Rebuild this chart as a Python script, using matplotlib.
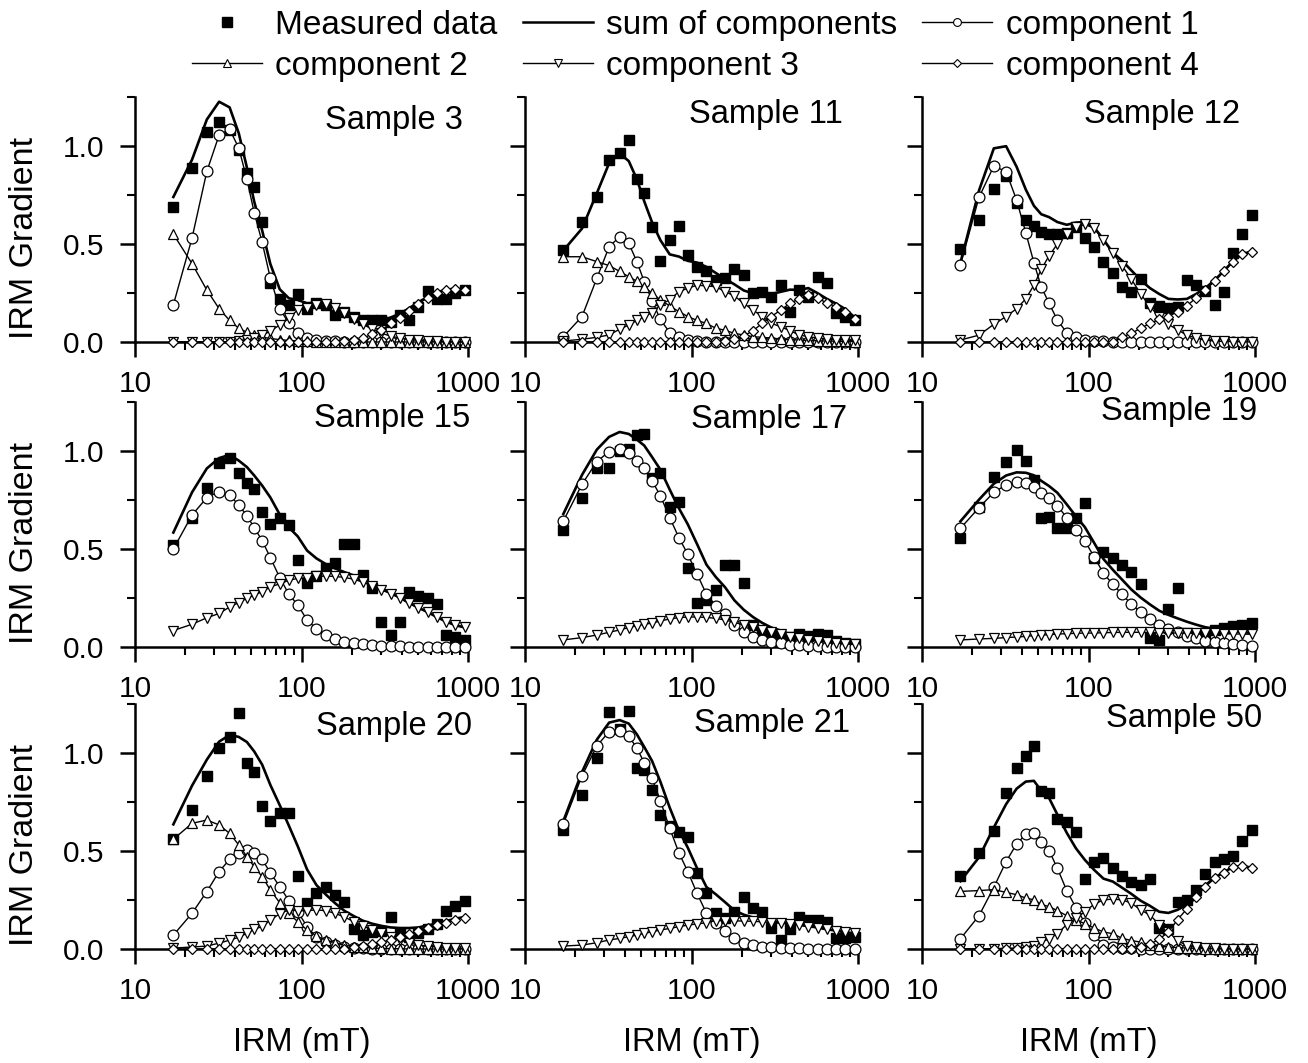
import numpy as np
import matplotlib
matplotlib.use("Agg")
import matplotlib.pyplot as plt
from matplotlib.lines import Line2D
from matplotlib.ticker import LogLocator, NullFormatter, FixedLocator

plt.rcParams['font.family'] = ['Liberation Sans', 'DejaVu Sans']

# ---------------- data ----------------
X_MT = [17, 22, 27, 32, 37, 42, 47, 52, 58, 65, 74, 84, 95, 108, 123, 140,
        159, 181, 206, 234, 266, 302, 343, 390, 443, 503, 572, 650, 738, 839, 953]

SAMPLES = ["Sample 3", "Sample 11", "Sample 12", "Sample 15", "Sample 17",
           "Sample 19", "Sample 20", "Sample 21", "Sample 50"]

S3_MEAS = [0.69, 0.89, 1.07, 1.12, 1.08, 0.98, 0.86, 0.79, 0.61, 0.30, 0.22, 0.19, 0.245, 0.17, 0.20, 0.19,
           0.14, 0.155, 0.13, 0.11, 0.11, 0.11, 0.10, 0.14, 0.11, 0.18, 0.26, 0.22, 0.22, 0.25, 0.265]
S3_C1 = [0.19, 0.53, 0.87, 1.056, 1.085, 0.99, 0.83, 0.66, 0.51, 0.325, 0.17, 0.095, 0.044, 0.02, 0.01, 0.005,
         0.003, 0.002, 0.001, 0.0, 0.0, 0.0, 0.0, 0.0, 0.0, 0.0, 0.0, 0.0, 0.0, 0.0, 0.0]
S3_C2 = [0.55, 0.40, 0.265, 0.17, 0.11, 0.07, 0.05, 0.036, 0.025, 0.018, 0.012, 0.008, 0.005, 0.003, 0.002, 0.001,
         0.0, 0.0, 0.0, 0.0, 0.0, 0.0, 0.0, 0.0, 0.0, 0.0, 0.0, 0.0, 0.0, 0.0, 0.0]
S3_C3 = [0.0, 0.0, 0.0, 0.0, 0.002, 0.005, 0.01, 0.02, 0.035, 0.055, 0.087, 0.12, 0.165, 0.175, 0.19, 0.195,
         0.175, 0.15, 0.115, 0.09, 0.065, 0.045, 0.03, 0.02, 0.012, 0.008, 0.005, 0.003, 0.002, 0.001, 0.0]
S3_C4 = [0.0, 0.0, 0.0, 0.0, 0.0, 0.0, 0.0, 0.0, 0.0, 0.0, 0.0, 0.0, 0.0, 0.0, 0.0, 0.0,
         0.0, 0.005, 0.01, 0.02, 0.04, 0.06, 0.095, 0.125, 0.16, 0.195, 0.225, 0.25, 0.265, 0.27, 0.265]

S11_MEAS = [0.47, 0.61, 0.74, 0.93, 0.966, 1.03, 0.83, 0.76, 0.585, 0.415, 0.52, 0.59, 0.445, 0.385, 0.36, 0.316,
            0.325, 0.37, 0.34, 0.25, 0.257, 0.23, 0.29, 0.155, 0.265, 0.23, 0.333, 0.30, 0.146, 0.13, 0.112]
S11_C1 = [0.027, 0.13, 0.325, 0.486, 0.537, 0.503, 0.41, 0.308, 0.21, 0.115, 0.048, 0.024, 0.01, 0.005, 0.002, 0.0,
          0.0, 0.0, 0.0, 0.0, 0.0, 0.0, 0.0, 0.0, 0.0, 0.0, 0.0, 0.0, 0.0, 0.0, 0.0]
S11_C2 = [0.435, 0.435, 0.41, 0.39, 0.36, 0.333, 0.31, 0.28, 0.25, 0.215, 0.184, 0.155, 0.13, 0.11, 0.095, 0.07,
          0.06, 0.044, 0.036, 0.027, 0.024, 0.02, 0.015, 0.012, 0.01, 0.008, 0.006, 0.005, 0.004, 0.003, 0.002]
S11_C3 = [0.005, 0.014, 0.024, 0.036, 0.065, 0.087, 0.11, 0.13, 0.15, 0.19, 0.215, 0.257, 0.274, 0.29, 0.286, 0.282,
          0.257, 0.235, 0.197, 0.163, 0.13, 0.095, 0.078, 0.058, 0.036, 0.027, 0.02, 0.015, 0.012, 0.01, 0.008]
S11_C4 = [0.0, 0.0, 0.0, 0.0, 0.0, 0.0, 0.0, 0.0, 0.0, 0.0, 0.0, 0.0, 0.0, 0.0, 0.0, 0.0,
          0.005, 0.015, 0.03, 0.058, 0.095, 0.13, 0.163, 0.197, 0.22, 0.24, 0.223, 0.2, 0.18, 0.155, 0.116]

S12_MEAS = [0.473, 0.62, 0.78, 0.847, 0.71, 0.622, 0.59, 0.563, 0.551, 0.551, 0.554, 0.588, 0.529, 0.486, 0.41, 0.35,
            0.282, 0.257, 0.32, 0.197, 0.184, 0.172, 0.18, 0.316, 0.29, 0.26, 0.19, 0.257, 0.452, 0.551, 0.648]
S12_C1 = [0.393, 0.738, 0.898, 0.869, 0.724, 0.558, 0.405, 0.282, 0.197, 0.112, 0.048, 0.024, 0.012, 0.006, 0.003, 0.001,
          0.0, 0.0, 0.0, 0.0, 0.0, 0.0, 0.0, 0.0, 0.0, 0.0, 0.0, 0.0, 0.0, 0.0, 0.0]
S12_C3 = [0.01, 0.035, 0.09, 0.13, 0.17, 0.22, 0.29, 0.37, 0.44, 0.5, 0.55, 0.585, 0.6, 0.58, 0.52, 0.455,
          0.39, 0.32, 0.245, 0.18, 0.13, 0.09, 0.062, 0.035, 0.02, 0.01, 0.005, 0.003, 0.002, 0.001, 0.0]
S12_C4 = [0.0, 0.0, 0.0, 0.0, 0.0, 0.0, 0.0, 0.0, 0.0, 0.0, 0.0, 0.0, 0.0, 0.0, 0.0, 0.0,
          0.025, 0.045, 0.07, 0.095, 0.115, 0.13, 0.155, 0.185, 0.225, 0.265, 0.31, 0.36, 0.41, 0.45, 0.46]

S15_MEAS = [0.52, 0.66, 0.813, 0.937, 0.963, 0.886, 0.835, 0.806, 0.69, 0.63, 0.66, 0.622, 0.444, 0.325, 0.36, 0.401,
            0.427, 0.524, 0.524, 0.367, 0.303, 0.126, 0.061, 0.126, 0.279, 0.26, 0.248, 0.218, 0.061, 0.049, 0.036]
S15_C1 = [0.5, 0.673, 0.762, 0.793, 0.776, 0.724, 0.67, 0.609, 0.543, 0.456, 0.354, 0.269, 0.214, 0.138, 0.092, 0.061,
          0.041, 0.027, 0.019, 0.014, 0.01, 0.007, 0.005, 0.003, 0.002, 0.001, 0.0, 0.0, 0.0, 0.0, 0.0]
S15_C3 = [0.084, 0.116, 0.149, 0.171, 0.204, 0.227, 0.248, 0.266, 0.281, 0.307, 0.322, 0.341, 0.35, 0.354, 0.36, 0.362,
          0.36, 0.355, 0.346, 0.331, 0.311, 0.291, 0.272, 0.249, 0.223, 0.2, 0.178, 0.153, 0.13, 0.111, 0.1]

S17_MEAS = [0.597, 0.758, 0.912, 0.912, 1.0, 1.01, 1.08, 1.085, 0.86, 0.89, 0.716, 0.738, 0.401, 0.223, 0.24, 0.29,
            0.418, 0.418, 0.325, 0.11, 0.07, 0.06, 0.05, 0.05, 0.065, 0.055, 0.065, 0.061, 0.03, 0.02, 0.015]
S17_C1 = [0.643, 0.83, 0.946, 0.997, 1.01, 0.988, 0.949, 0.912, 0.847, 0.772, 0.66, 0.558, 0.473, 0.372, 0.269, 0.211,
          0.167, 0.112, 0.078, 0.053, 0.036, 0.024, 0.019, 0.012, 0.008, 0.005, 0.003, 0.002, 0.001, 0.0, 0.0]
S17_C3 = [0.036, 0.048, 0.061, 0.075, 0.087, 0.099, 0.109, 0.116, 0.122, 0.133, 0.143, 0.15, 0.153, 0.153, 0.151, 0.146,
          0.138, 0.126, 0.112, 0.1, 0.087, 0.075, 0.065, 0.053, 0.044, 0.036, 0.03, 0.025, 0.02, 0.016, 0.013]

S19_MEAS = [0.554, 0.716, 0.869, 0.946, 1.005, 0.949, 0.852, 0.656, 0.665, 0.609, 0.605, 0.66, 0.733, 0.452, 0.486, 0.456,
            0.418, 0.384, 0.32, 0.044, 0.036, 0.194, 0.30, 0.07, 0.06, 0.07, 0.087, 0.095, 0.105, 0.112, 0.121]
S19_C1 = [0.605, 0.711, 0.789, 0.827, 0.84, 0.835, 0.818, 0.787, 0.758, 0.721, 0.66, 0.597, 0.541, 0.461, 0.376, 0.32,
          0.269, 0.218, 0.177, 0.143, 0.112, 0.092, 0.075, 0.058, 0.044, 0.031, 0.024, 0.019, 0.014, 0.01, 0.007]
S19_C3 = [0.036, 0.041, 0.044, 0.048, 0.051, 0.054, 0.058, 0.061, 0.063, 0.066, 0.068, 0.07, 0.071, 0.071, 0.073, 0.074,
          0.075, 0.075, 0.075, 0.074, 0.073, 0.072, 0.071, 0.071, 0.07, 0.07, 0.069, 0.068, 0.067, 0.066, 0.065]

S20_MEAS = [0.56, 0.709, 0.883, 1.024, 1.083, 1.202, 0.947, 0.905, 0.73, 0.655, 0.692, 0.692, 0.372, 0.233, 0.284, 0.315,
            0.276, 0.241, 0.1, 0.071, 0.088, 0.09, 0.165, 0.08, 0.063, 0.08, 0.1, 0.13, 0.196, 0.219, 0.245]
S20_C1 = [0.071, 0.182, 0.293, 0.395, 0.457, 0.491, 0.505, 0.488, 0.457, 0.389, 0.318, 0.247, 0.19, 0.114, 0.06, 0.037,
          0.02, 0.012, 0.006, 0.003, 0.001, 0.0, 0.0, 0.0, 0.0, 0.0, 0.0, 0.0, 0.0, 0.0, 0.0]
S20_C2 = [0.56, 0.641, 0.658, 0.633, 0.59, 0.531, 0.471, 0.42, 0.369, 0.301, 0.236, 0.182, 0.139, 0.097, 0.066, 0.046,
          0.032, 0.02, 0.012, 0.008, 0.005, 0.003, 0.002, 0.001, 0.0, 0.0, 0.0, 0.0, 0.0, 0.0, 0.0]
S20_C3 = [0.005, 0.01, 0.015, 0.03, 0.045, 0.06, 0.08, 0.1, 0.115, 0.147, 0.18, 0.2, 0.195, 0.195, 0.2, 0.195,
          0.182, 0.163, 0.14, 0.118, 0.098, 0.08, 0.063, 0.046, 0.032, 0.02, 0.015, 0.01, 0.007, 0.005, 0.003]
S20_C4 = [0.0, 0.0, 0.0, 0.0, 0.0, 0.0, 0.0, 0.0, 0.0, 0.0, 0.0, 0.0, 0.0, 0.0, 0.0, 0.0,
          0.0, 0.0, 0.01, 0.015, 0.025, 0.035, 0.045, 0.06, 0.075, 0.09, 0.105, 0.12, 0.135, 0.15, 0.16]

S21_MEAS = [0.607, 0.786, 0.973, 1.211, 1.12, 1.216, 0.922, 0.913, 0.811, 0.684, 0.63, 0.599, 0.57, 0.386, 0.284, 0.185,
            0.16, 0.19, 0.267, 0.207, 0.19, 0.105, 0.046, 0.1, 0.162, 0.15, 0.148, 0.139, 0.054, 0.054, 0.06]
S21_C1 = [0.638, 0.883, 1.036, 1.109, 1.114, 1.087, 1.024, 0.951, 0.871, 0.757, 0.616, 0.491, 0.395, 0.284, 0.182, 0.134,
          0.094, 0.054, 0.032, 0.02, 0.012, 0.009, 0.006, 0.004, 0.003, 0.002, 0.001, 0.0, 0.0, 0.0, 0.0]
S21_C3 = [0.015, 0.02, 0.032, 0.046, 0.054, 0.063, 0.071, 0.08, 0.088, 0.097, 0.105, 0.114, 0.122, 0.128, 0.134, 0.145,
          0.145, 0.143, 0.143, 0.141, 0.139, 0.134, 0.131, 0.128, 0.122, 0.114, 0.109, 0.1, 0.094, 0.085, 0.08]

S50_MEAS = [0.372, 0.488, 0.602, 0.796, 0.926, 0.986, 1.038, 0.804, 0.796, 0.661, 0.649, 0.597, 0.358, 0.445, 0.464, 0.412,
            0.375, 0.343, 0.329, 0.355, 0.107, 0.104, 0.239, 0.251, 0.30, 0.384, 0.446, 0.46, 0.476, 0.55, 0.606]
S50_C1 = [0.052, 0.17, 0.315, 0.446, 0.536, 0.585, 0.59, 0.545, 0.502, 0.412, 0.298, 0.211, 0.135, 0.069, 0.021, 0.012,
          0.007, 0.004, 0.002, 0.001, 0.0, 0.0, 0.0, 0.0, 0.0, 0.0, 0.0, 0.0, 0.0, 0.0, 0.0]
S50_C2 = [0.294, 0.298, 0.303, 0.289, 0.277, 0.26, 0.251, 0.228, 0.216, 0.196, 0.17, 0.147, 0.13, 0.107, 0.087, 0.078,
          0.055, 0.043, 0.035, 0.021, 0.015, 0.01, 0.007, 0.005, 0.003, 0.002, 0.001, 0.0, 0.0, 0.0, 0.0]
S50_C3 = [0.0, 0.0, 0.002, 0.004, 0.005, 0.009, 0.017, 0.035, 0.052, 0.078, 0.125, 0.156, 0.19, 0.228, 0.251, 0.254,
          0.251, 0.234, 0.199, 0.173, 0.125, 0.087, 0.043, 0.017, 0.009, 0.005, 0.003, 0.002, 0.001, 0.0, 0.0]
S50_C4 = [0.0, 0.0, 0.0, 0.0, 0.0, 0.0, 0.0, 0.0, 0.0, 0.0, 0.0, 0.0, 0.0, 0.0, 0.0, 0.0,
          0.0, 0.0, 0.01, 0.025, 0.05, 0.087, 0.15, 0.205, 0.265, 0.318, 0.36, 0.39, 0.418, 0.423, 0.415]

# measured, comp1..comp4 (None = component absent)
PANEL_DATA = [
    (S3_MEAS, S3_C1, S3_C2, S3_C3, S3_C4),
    (S11_MEAS, S11_C1, S11_C2, S11_C3, S11_C4),
    (S12_MEAS, S12_C1, None, S12_C3, S12_C4),
    (S15_MEAS, S15_C1, None, S15_C3, None),
    (S17_MEAS, S17_C1, None, S17_C3, None),
    (S19_MEAS, S19_C1, None, S19_C3, None),
    (S20_MEAS, S20_C1, S20_C2, S20_C3, S20_C4),
    (S21_MEAS, S21_C1, None, S21_C3, None),
    (S50_MEAS, S50_C1, S50_C2, S50_C3, S50_C4),
]

X_TICKS = [10, 100, 1000]
X_TICKLABELS = ["10", "100", "1000"]
Y_TICKS = [0.0, 0.5, 1.0]
Y_TICKLABELS = ["0.0", "0.5", "1.0"]
Y_MINOR = [0.25, 0.75, 1.25]

# ---------------- layout / style ----------------
W, H = 1308, 1063
fig = plt.figure(figsize=(W / 100, H / 100), dpi=100)

col_left_px = [135, 525, 922]
row_bottom_px = [342, 647, 949]
ax_w_px, ax_h_px = 333, 245

label_pos = [(0.985, 0.869), (0.955, 0.894), (0.955, 0.894),
             (1.006, 0.898), (0.967, 0.894), (1.006, 0.927),
             (1.012, 0.873), (0.976, 0.886), (1.021, 0.906)]

comp_styles = [dict(marker='o', ms=7.8),
               dict(marker='^', ms=7.8),
               dict(marker='v', ms=7.8),
               dict(marker='D', ms=5.6)]

FS_TICK = 21.5
FS_LABEL = 23.5
FS_YLABEL = 24.5
FS_LEG = 24

for i in range(9):
    r, c = divmod(i, 3)
    left = col_left_px[c] / W
    bottom = 1 - row_bottom_px[r] / H
    ax = fig.add_axes([left, bottom, ax_w_px / W, ax_h_px / H])
    ax.patch.set_alpha(0.0)
    meas, c1, c2, c3, c4 = PANEL_DATA[i]
    comps = [c1, c2, c3, c4]
    present = [np.asarray(cc) for cc in comps if cc is not None]
    total = np.sum(present, axis=0)

    ax.plot(X_MT, total, color='k', lw=1.9, zorder=2)
    ax.plot(X_MT, meas, ls='none', marker='s', ms=7.4, color='k', zorder=3, clip_on=False)
    for cc, st in zip(comps, comp_styles):
        if cc is None:
            continue
        ax.plot(X_MT, cc, color='k', lw=1.0, marker=st['marker'], ms=st['ms'],
                mfc='white', mec='k', mew=0.9, zorder=4, clip_on=False)

    ax.set_xscale('log')
    ax.set_xlim(10, 1000)
    ax.set_ylim(0, 1.25)
    for s in ['top', 'right']:
        ax.spines[s].set_visible(False)
    for s in ['left', 'bottom']:
        ax.spines[s].set_linewidth(1.8)

    ax.set_xticks(X_TICKS)
    ax.set_xticklabels(X_TICKLABELS)
    ax.xaxis.set_minor_locator(LogLocator(base=10, subs=np.arange(2, 10)))
    ax.xaxis.set_minor_formatter(NullFormatter())
    ax.set_yticks(Y_TICKS)
    ax.yaxis.set_minor_locator(FixedLocator(Y_MINOR))
    if c == 0:
        ax.set_yticklabels(Y_TICKLABELS)
    else:
        ax.tick_params(axis='y', labelleft=False)

    ax.tick_params(axis='both', which='major', direction='out', length=11, width=1.8,
                   labelsize=FS_TICK, colors='k')
    ax.tick_params(axis='x', which='major', pad=9)
    ax.tick_params(axis='y', which='major', pad=11)
    ax.tick_params(axis='both', which='minor', direction='out', length=6, width=1.5)

    if r == 2:
        ax.set_xlabel('IRM (mT)', fontsize=FS_LABEL)
        ax.xaxis.set_label_coords(0.5, -0.32)
    if c == 0:
        fig.text(25 / W, 1 - (row_bottom_px[r] - 104) / H, 'IRM Gradient', rotation=90,
                 ha='center', va='center', fontsize=FS_YLABEL)

    lx, ly = label_pos[i]
    ax.text(lx, ly, SAMPLES[i], transform=ax.transAxes, ha='right', va='baseline',
            fontsize=FS_LABEL)

# ---------------- legend ----------------
h_meas = Line2D([], [], ls='none', marker='s', ms=6.5, color='k')
h_sum = Line2D([], [], color='k', lw=1.8)
h_c = [Line2D([], [], color='k', lw=1.0, marker=st['marker'], ms=st['ms'] * 0.72,
              mfc='white', mec='k', mew=0.8) for st in comp_styles]
handles = [h_meas, h_c[1], h_sum, h_c[2], h_c[0], h_c[3]]
labels = ['Measured data', 'component 2', 'sum of components', 'component 3',
          'component 1', 'component 4']
fig.legend(handles, labels, ncol=3, loc='upper left',
           bbox_to_anchor=(192 / W, 1 - 10 / H), frameon=False, fontsize=FS_LEG,
           handlelength=2.1, handletextpad=0.4, columnspacing=0.75,
           labelspacing=0.3, borderpad=0, borderaxespad=0)

fig.savefig('out.png', dpi=100)
